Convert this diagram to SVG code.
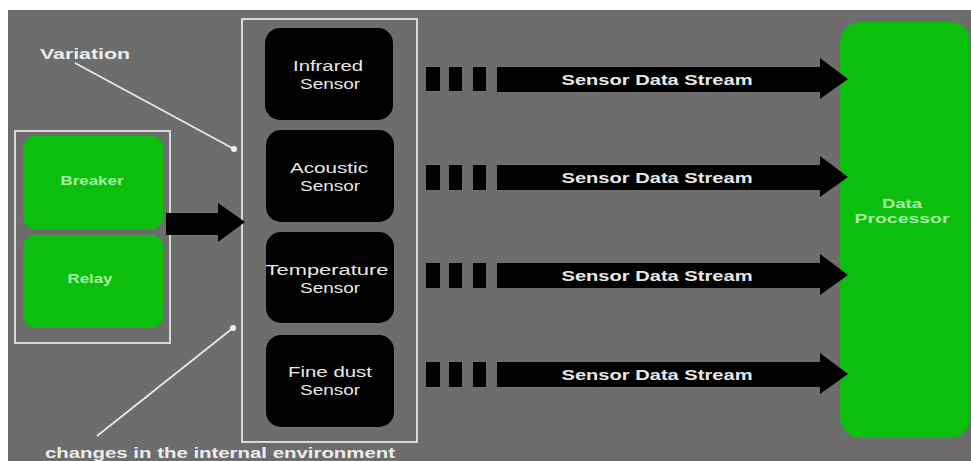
<svg xmlns="http://www.w3.org/2000/svg" width="971" height="461" viewBox="0 0 971 461">
<defs>
<style>
.bg{fill:#6d6d6d}
.frame{fill:none;stroke:#d8d8d8;stroke-width:2}
.sensor{fill:#000}
.green{fill:#0cbf0c}
.st{font-family:"Liberation Sans",Arial,sans-serif;font-size:14px;fill:#e8e8e8;text-anchor:middle}
.gt{font-family:"Liberation Sans",Arial,sans-serif;font-size:12px;font-weight:bold;fill:#a8f0a8;text-anchor:middle}
.pt{font-family:"Liberation Sans",Arial,sans-serif;font-size:13px;font-weight:bold;fill:#a8f0a8;text-anchor:middle}
.lbl{font-family:"Liberation Sans",Arial,sans-serif;font-size:15px;font-weight:bold;fill:#ececec}
.arrtxt{font-family:"Liberation Sans",Arial,sans-serif;font-size:15px;font-weight:bold;fill:#e8e8e8;text-anchor:middle}
.blk{fill:#000}
.pointer{stroke:#e8e8e8;stroke-width:1.8;fill:none}
</style>
<marker id="dot" markerWidth="8" markerHeight="8" refX="4" refY="4" markerUnits="userSpaceOnUse"><circle cx="4" cy="4" r="3" fill="#f0f0f0"/></marker>
</defs>
<rect x="0" y="0" width="971" height="461" fill="#ffffff"/>
<rect class="bg" x="8" y="10" width="963" height="451"/>

<g id="sensor-group">
<rect class="frame" x="242" y="19" width="175" height="423"/>
</g>
<g id="infrared">
<rect class="sensor" x="265" y="28" width="128" height="92" rx="15"/>
<text class="st" x="328" y="71" textLength="70" lengthAdjust="spacingAndGlyphs">Infrared</text>
<text class="st" x="330" y="89" textLength="60" lengthAdjust="spacingAndGlyphs">Sensor</text>
</g>
<g id="acoustic">
<rect class="sensor" x="266" y="130" width="128" height="92" rx="15"/>
<text class="st" x="329" y="173" textLength="78" lengthAdjust="spacingAndGlyphs">Acoustic</text>
<text class="st" x="330" y="191" textLength="60" lengthAdjust="spacingAndGlyphs">Sensor</text>
</g>
<g id="temperature">
<rect class="sensor" x="266" y="232" width="128" height="91" rx="15"/>
<text class="st" x="327" y="275" textLength="123" lengthAdjust="spacingAndGlyphs">Temperature</text>
<text class="st" x="330" y="293" textLength="60" lengthAdjust="spacingAndGlyphs">Sensor</text>
</g>
<g id="finedust">
<rect class="sensor" x="266" y="335" width="128" height="92" rx="15"/>
<text class="st" x="330" y="377" textLength="84" lengthAdjust="spacingAndGlyphs">Fine dust</text>
<text class="st" x="330" y="395" textLength="60" lengthAdjust="spacingAndGlyphs">Sensor</text>
</g>

<g id="devices">
<rect class="frame" x="15" y="131" width="155" height="212"/>
</g>
<g id="breaker">
<rect class="green" x="23" y="136" width="140" height="93" rx="12"/>
<text class="gt" x="92" y="185" textLength="63" lengthAdjust="spacingAndGlyphs">Breaker</text>
</g>
<g id="relay">
<rect class="green" x="23" y="235" width="140" height="93" rx="12"/>
<text class="gt" x="90" y="283" textLength="45" lengthAdjust="spacingAndGlyphs">Relay</text>
</g>

<g id="processor">
<rect class="green" x="840" y="22" width="130" height="416" rx="20"/>
<text class="pt" x="902" y="208" textLength="40" lengthAdjust="spacingAndGlyphs">Data</text>
<text class="pt" x="902" y="223" textLength="95" lengthAdjust="spacingAndGlyphs">Processor</text>
</g>

<g id="labels">
<text class="lbl" x="40" y="59" textLength="90" lengthAdjust="spacingAndGlyphs">Variation</text>
<text class="lbl" x="45" y="458" textLength="350" lengthAdjust="spacingAndGlyphs">changes in the internal environment</text>
</g>

<g id="connectors">
<line class="pointer" x1="75" y1="63" x2="234" y2="149" marker-end="url(#dot)"/>
<line class="pointer" x1="97" y1="436" x2="233" y2="328" marker-end="url(#dot)"/>
<polygon class="blk" points="166,213 218,213 218,203 245,222 218,242 218,235 166,235"/>

<g id="stream1">
<rect class="blk" x="426" y="67" width="14" height="24"/>
<rect class="blk" x="449" y="67" width="13" height="24"/>
<rect class="blk" x="473" y="67" width="13" height="24"/>
<polygon class="blk" points="497,67 820,67 820,58 848,79 820,99 820,92 497,92"/>
<text class="arrtxt" x="657" y="85" textLength="191" lengthAdjust="spacingAndGlyphs">Sensor Data Stream</text>
</g>
<g id="stream2">
<rect class="blk" x="426" y="165" width="14" height="25"/>
<rect class="blk" x="449" y="165" width="13" height="25"/>
<rect class="blk" x="473" y="165" width="13" height="25"/>
<polygon class="blk" points="497,165 820,165 820,156 848,177 820,197 820,190 497,190"/>
<text class="arrtxt" x="657" y="183" textLength="191" lengthAdjust="spacingAndGlyphs">Sensor Data Stream</text>
</g>
<g id="stream3">
<rect class="blk" x="426" y="263" width="14" height="25"/>
<rect class="blk" x="449" y="263" width="13" height="25"/>
<rect class="blk" x="473" y="263" width="13" height="25"/>
<polygon class="blk" points="497,263 820,263 820,254 848,275 820,295 820,288 497,288"/>
<text class="arrtxt" x="657" y="281" textLength="191" lengthAdjust="spacingAndGlyphs">Sensor Data Stream</text>
</g>
<g id="stream4">
<rect class="blk" x="426" y="362" width="14" height="25"/>
<rect class="blk" x="449" y="362" width="13" height="25"/>
<rect class="blk" x="473" y="362" width="13" height="25"/>
<polygon class="blk" points="497,362 820,362 820,353 848,374 820,394 820,387 497,387"/>
<text class="arrtxt" x="657" y="380" textLength="191" lengthAdjust="spacingAndGlyphs">Sensor Data Stream</text>
</g>
</g>
</svg>
